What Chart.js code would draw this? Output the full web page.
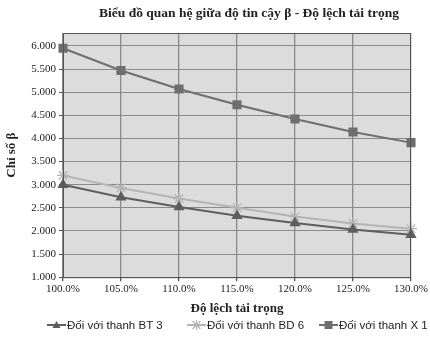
<!DOCTYPE html>
<html>
<head>
<meta charset="utf-8">
<script src="https://cdn.jsdelivr.net/npm/chart.js@4"></script>
<style>
  html, body { margin: 0; padding: 0; background: #fff; }
  #wrap { width: 430px; height: 338px; }
</style>
</head>
<body>
<div id="wrap"><canvas id="bieuDo"></canvas></div>
<script>
const nhan = ['100.0%', '105.0%', '110.0%', '115.0%', '120.0%', '125.0%', '130.0%'];
const thanhBT3 = [3.00, 2.73, 2.52, 2.33, 2.17, 2.03, 1.92];
const thanhBD6 = [3.20, 2.93, 2.70, 2.50, 2.31, 2.16, 2.05];
const thanhX1 = [5.95, 5.47, 5.07, 4.73, 4.42, 4.14, 3.91];
const vachY = [1, 1.5, 2, 2.5, 3, 3.5, 4, 4.5, 5, 5.5, 6];
const tieuDe = 'Biểu đồ quan hệ giữa độ tin cậy β - Độ lệch tải trọng';

function veKyHieu(g, x, y, mau, kieu) {
  g.strokeStyle = mau; g.fillStyle = mau; g.lineWidth = 2;
  g.beginPath(); g.moveTo(x, y); g.lineTo(x + 19, y); g.stroke();
  const c = x + 9.5;
  if (kieu === 'triangle') {
    g.beginPath(); g.moveTo(c, y - 4); g.lineTo(c + 4, y + 3); g.lineTo(c - 4, y + 3); g.closePath(); g.fill();
  } else if (kieu === 'rect') {
    g.fillRect(c - 4, y - 4, 8, 8);
  } else {
    g.lineWidth = 1.2;
    g.beginPath();
    g.moveTo(c - 4, y - 4); g.lineTo(c + 4, y + 4); g.moveTo(c + 4, y - 4); g.lineTo(c - 4, y + 4);
    g.moveTo(c, y - 5); g.lineTo(c, y + 5); g.stroke();
  }
}

const viTriChuGiai = [47, 187, 319];

const nenVung = {
  id: 'nenVung',
  beforeDraw(chart) {
    const { ctx, chartArea: a } = chart;
    ctx.save();
    ctx.fillStyle = '#dcdcdc';
    ctx.fillRect(a.left, a.top, a.right - a.left, a.bottom - a.top);
    ctx.fillStyle = '#222';
    ctx.font = 'bold 13.5px "Liberation Serif"';
    ctx.textAlign = 'center';
    ctx.textBaseline = 'middle';
    ctx.fillText(tieuDe, 249, 14);
    ctx.restore();
  },
  afterDatasetsDraw(chart) {
    const { ctx, chartArea: a } = chart;
    ctx.save();
    ctx.strokeStyle = '#555';
    ctx.lineWidth = 1;
    ctx.strokeRect(a.left + 0.5, a.top + 0.5, a.right - a.left - 1, a.bottom - a.top);
    // chú giải
    const yc = 325;
    chart.data.datasets.forEach((d, i) => {
      const x = viTriChuGiai[i];
      veKyHieu(ctx, x, yc, d.borderColor, d.pointStyle);
      ctx.fillStyle = '#222';
      ctx.font = '11.5px "Liberation Sans"';
      ctx.textAlign = 'left';
      ctx.textBaseline = 'middle';
      ctx.fillText(d.label, x + 20, yc + 1);
    });
    ctx.restore();
  }
};

const mauBT3 = '#5e5e5e', mauBD6 = '#b4b4b4', mauX1 = '#6e6e6e';

new Chart(document.getElementById('bieuDo'), {
  type: 'line',
  data: {
    labels: nhan,
    datasets: [
      {
        label: 'Đối với thanh BT 3',
        data: thanhBT3,
        borderColor: mauBT3, backgroundColor: mauBT3,
        borderWidth: 2, pointStyle: 'triangle', pointRadius: 4.5
      },
      {
        label: 'Đối với thanh BD 6',
        data: thanhBD6,
        borderColor: mauBD6, backgroundColor: mauBD6,
        borderWidth: 2, pointStyle: 'star', pointRadius: 6, pointBorderWidth: 1.3
      },
      {
        label: 'Đối với thanh X 1',
        data: thanhX1,
        borderColor: mauX1, backgroundColor: mauX1,
        borderWidth: 2, pointStyle: 'rect', pointRadius: 5
      }
    ]
  },
  options: {
    responsive: true,
    maintainAspectRatio: false,
    animation: false,
    layout: { padding: { left: 4, right: 19, top: 33, bottom: 22 } },
    plugins: {
      title: { display: false },
      legend: { display: false },
      tooltip: { enabled: false }
    },
    scales: {
      x: {
        offset: false,
        grid: { color: '#8a8a8a', lineWidth: 1.3, tickLength: 4, tickColor: '#555' },
        border: { color: '#555' },
        ticks: {
          color: '#222', maxRotation: 0, padding: 1,
          font: { family: 'Liberation Serif', size: 11 }
        },
        title: {
          display: true, text: 'Độ lệch tải trọng', color: '#222',
          font: { family: 'Liberation Serif', size: 13, weight: 'bold' },
          padding: { top: 4, bottom: 0 }
        }
      },
      y: {
        min: 1, max: 6.28,
        afterBuildTicks(s) { s.ticks = vachY.map(v => ({ value: v })); },
        afterFit(s) { s.width = 59; },
        grid: { color: '#8a8a8a', lineWidth: 1, tickLength: 4, tickColor: '#555' },
        border: { color: '#555' },
        ticks: {
          color: '#222', padding: 3,
          font: { family: 'Liberation Serif', size: 11 },
          callback: v => v.toFixed(3)
        },
        title: {
          display: true, text: 'Chỉ số β', color: '#222',
          font: { family: 'Liberation Serif', size: 13, weight: 'bold' },
          padding: { top: 0, bottom: 2 }
        }
      }
    }
  },
  plugins: [nenVung]
});
</script>
</body>
</html>
